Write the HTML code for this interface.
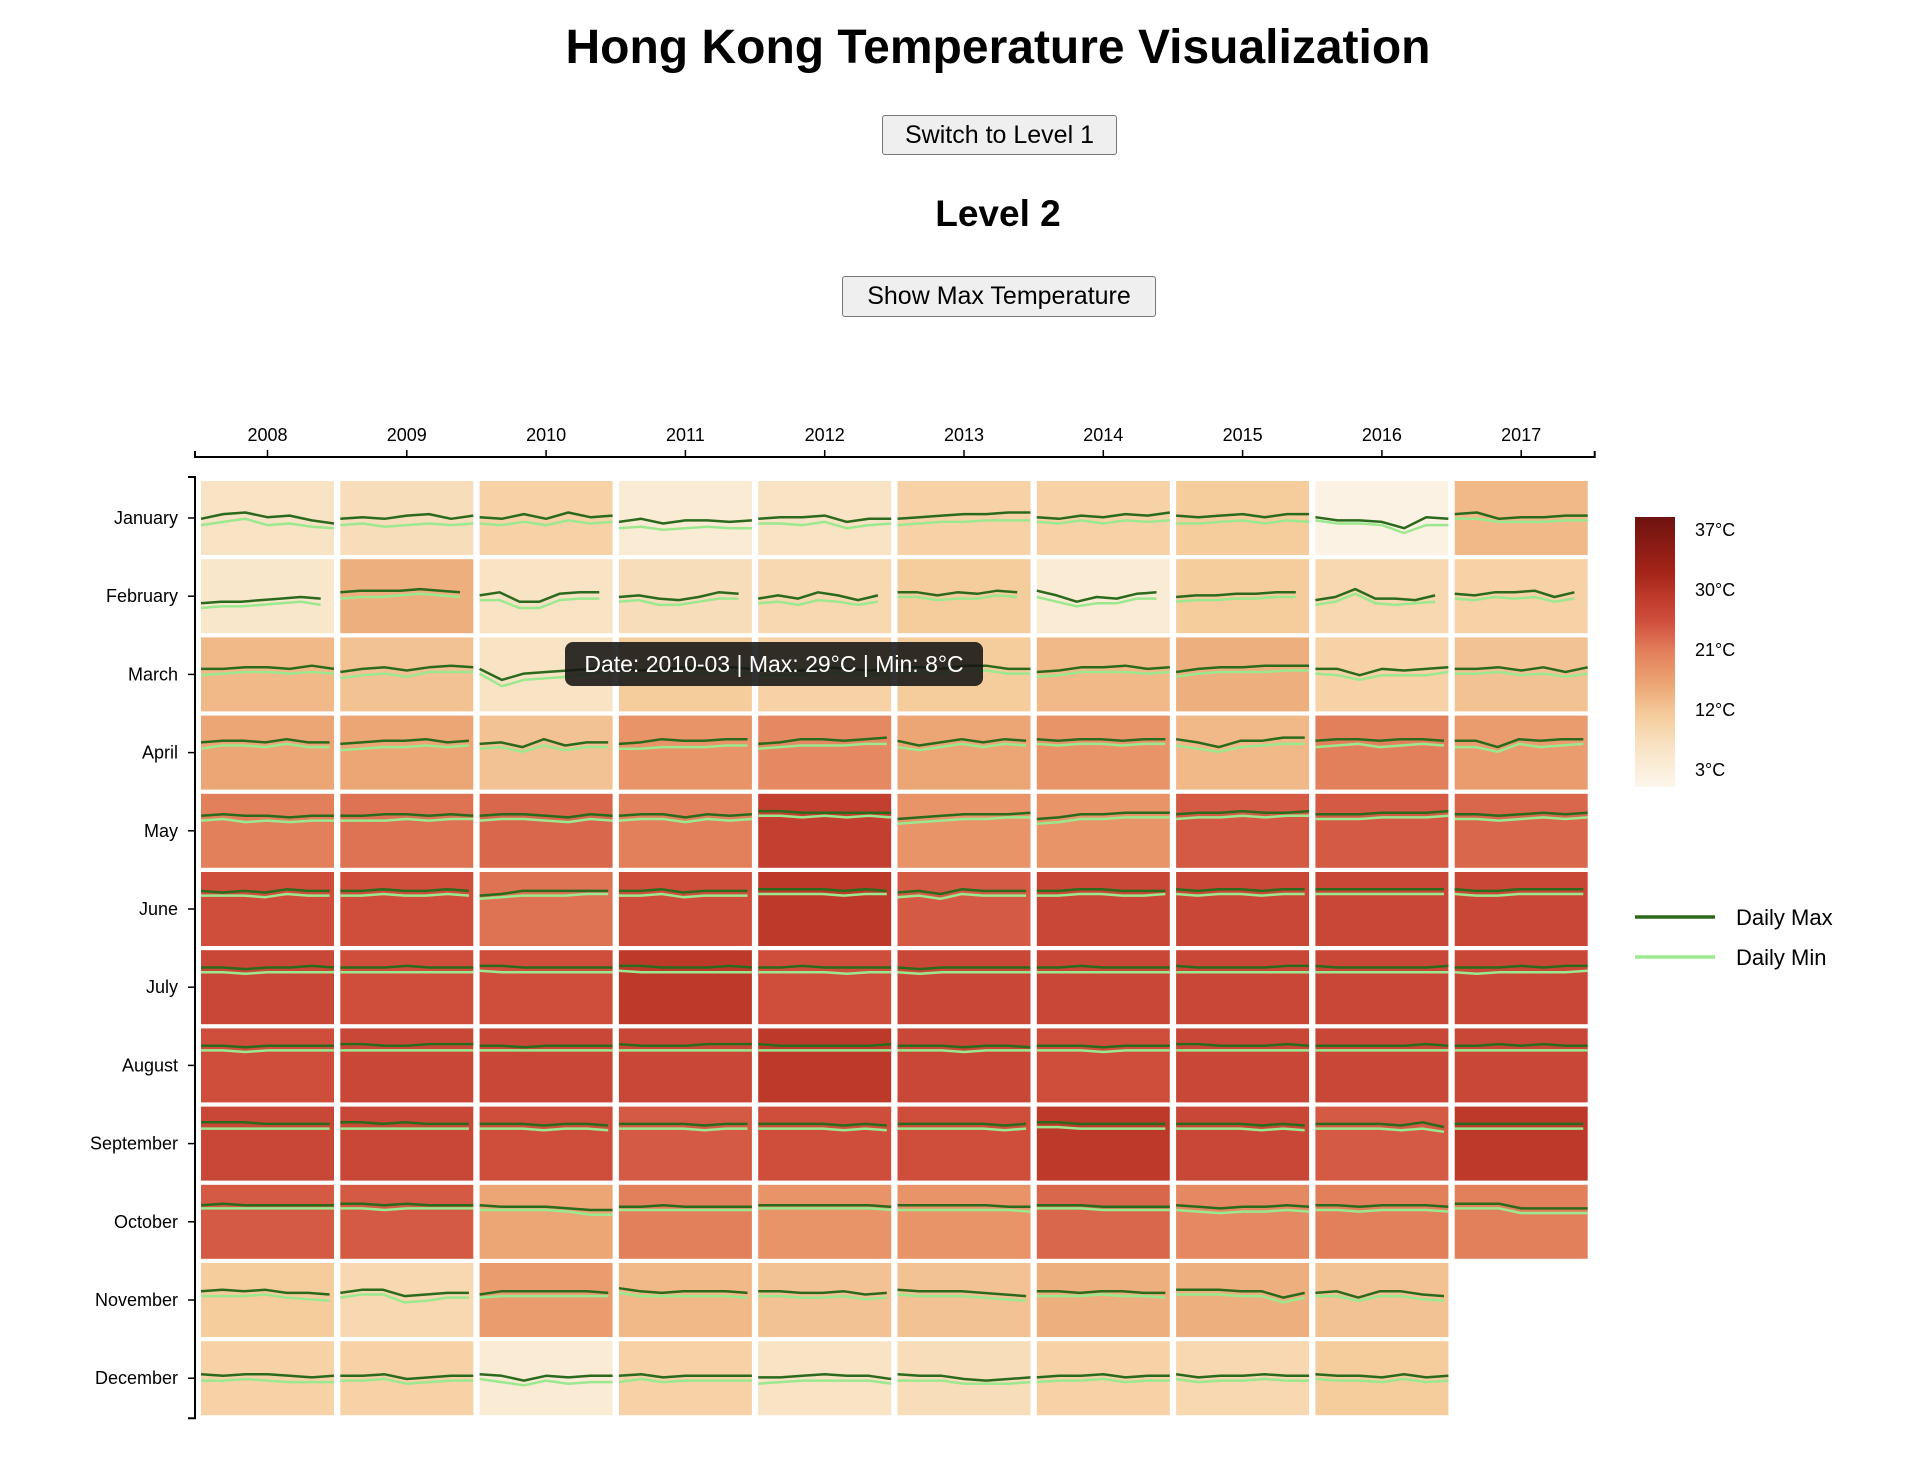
<!DOCTYPE html>
<html><head><meta charset="utf-8">
<style>
body{margin:0;background:#fff;font-family:"Liberation Sans",Arial,sans-serif;}
#wrap{position:relative;width:1905px;height:1474px;overflow:hidden;}
h1{position:absolute;left:0;width:1996px;top:20px;margin:0;text-align:center;font-size:48px;font-weight:bold;}
h2{position:absolute;left:0;width:1996px;top:193px;margin:0;text-align:center;font-size:37px;font-weight:bold;}
.btn{position:absolute;background:#efefef;border:1.5px solid #767676;border-radius:3px;font-size:25px;font-family:"Liberation Sans",Arial,sans-serif;color:#000;display:flex;align-items:center;justify-content:center;box-sizing:border-box;white-space:nowrap;}
#tip{position:absolute;left:565px;top:642px;width:418px;height:44px;background:rgba(20,20,20,0.88);color:#fff;border-radius:8px;font-size:23px;display:flex;align-items:center;justify-content:center;white-space:nowrap;}
</style></head>
<body><div id="wrap">
<h1>Hong Kong Temperature Visualization</h1>
<div class="btn" style="left:882px;top:115px;width:235px;height:40px;">Switch to Level 1</div>
<h2>Level 2</h2>
<div class="btn" style="left:842px;top:276px;width:314px;height:41px;">Show Max Temperature</div>
<svg id="chart" width="1905" height="1474" style="position:absolute;left:0;top:0"></svg>
<div id="tip">Date: 2010-03 | Max: 29°C | Min: 8°C</div>
</div>
<script>
const years=[2008,2009,2010,2011,2012,2013,2014,2015,2016,2017];
const months=["January","February","March","April","May","June","July","August","September","October","November","December"];
// monthly colour value (°C) rows=months, cols=years
const cellValues=[
[8,9,11,6,8,11,11,12,4,14],
[7,15,8,9,10,12,6,12,10,11],
[14,13,8,12,11,12,14,15,11,13],
[16,16,13,18,19,16,18,14,20,17],
[20,21,22,20,26,18,18,23,23,22],
[24,24,21,24,27,23,25,25,25,25],
[25,24,24,27,24,25,25,25,25,25],
[24,25,25,25,27,25,24,25,25,25],
[25,25,24,23,24,24,27,25,23,27],
[23,23,16,20,18,18,22,19,20,20],
[12,10,17,14,13,13,15,15,13,null],
[11,11,6,11,8,9,11,10,12,null]];
// daily max samples (°C) per cell: rows=months, cols=years
const maxSeries=[
["18 21 22 19 20 17 15","18 19 18 20 21 18 20","19 18 21 18 22 19 20","16 18 15 17 17 16 17","18 19 19 20 16 18 18","18 19 20 21 21 22 22","19 18 20 19 21 20 22","20 19 20 21 19 21 21","19 17 17 16 12 19 18","21 22 18 19 19 20 20"],
["14 15 15 16 17 18 17","21 22 22 22 23 22 21","19 21 15 15 20 21 21","18 19 17 16 18 21 20","17 19 17 21 19 16 19","21 21 19 21 20 22 21","22 19 15 18 17 20 21","18 19 19 20 20 21 21","16 18 23 17 17 16 19","20 19 21 21 22 18 21"],
["22 22 23 23 22 24 22","20 22 23 21 23 24 23","22 15 19 20 21 22 23","22 21 22 23 22 23 22","21 21 21 23 22 21 22","23 23 22 24 24 22 22","20 21 23 23 24 22 23","20 22 23 23 24 24 24","22 22 18 22 21 22 23","22 22 23 21 23 20 23"],
["25 26 26 25 27 25 25","24 25 26 26 27 25 26","24 25 22 27 23 25 25","24 25 27 26 26 27 27","24 25 27 27 26 27 28","26 23 25 27 25 27 26","27 26 27 27 26 27 27","27 25 22 26 26 28 28","26 27 27 26 27 27 26","26 26 22 27 26 27 27"],
["28 29 28 28 27 28 28","28 28 29 29 28 29 28","28 29 29 28 27 29 28","28 29 29 27 29 28 29","31 31 30 30 30 30 30","26 27 28 29 29 29 30","26 27 29 29 30 30 30","29 30 30 31 30 30 31","29 29 29 30 30 30 31","29 29 28 29 30 29 30"],
["30 29 30 29 31 30 30","30 30 31 30 30 31 30","27 28 30 30 30 30 30","30 30 31 29 30 30 30","31 31 31 31 30 31 30","29 30 28 31 30 30 30","30 30 31 31 30 30 30","31 30 31 31 30 31 31","31 31 31 31 31 31 31","31 30 30 31 31 31 31"],
["31 31 30 31 31 32 31","31 31 31 32 31 31 31","32 32 31 31 31 31 31","32 32 31 31 31 32 31","31 31 32 31 31 31 31","31 30 31 31 31 31 31","31 31 32 31 31 31 31","32 31 31 31 31 32 32","32 31 31 31 31 31 32","31 31 31 32 31 32 32"],
["31 31 30 31 31 31 31","32 32 31 31 32 32 32","31 31 30 31 31 31 31","32 31 31 31 32 32 32","32 31 31 31 31 31 32","31 31 31 30 31 31 30","31 31 31 30 31 31 31","32 32 31 31 31 32 31","31 31 31 31 31 32 31","31 31 32 31 32 31 31"],
["32 32 32 31 31 31 31","32 32 31 32 31 31 31","31 31 31 30 31 31 30","31 31 31 31 30 31 31","31 31 31 31 30 31 30","31 31 31 31 31 30 31","32 32 31 31 31 31 31","31 31 31 31 30 31 30","31 31 31 31 30 32 29","31 31 31 31 31 31 31"],
["29 30 29 29 29 29 29","30 30 29 30 29 29 29","29 28 28 28 27 26 26","28 28 29 28 28 28 28","29 29 29 29 29 29 28","29 29 29 29 29 28 28","29 29 29 28 28 28 28","29 28 27 28 28 29 28","29 29 28 29 29 29 28","30 30 30 27 27 27 27"],
["24 25 24 25 23 23 22","23 25 25 21 22 23 23","22 24 24 24 24 24 23","26 24 23 24 24 24 23","24 24 23 23 24 22 23","25 24 24 24 23 22 21","24 24 23 24 24 23 23","25 25 25 24 24 20 23","23 24 20 24 24 22 21",""],
["21 20 21 21 20 19 20","20 20 21 18 19 20 20","21 20 17 20 19 20 20","20 21 19 20 20 20 20","19 19 20 21 20 20 18","21 20 20 18 17 18 19","19 20 20 21 19 20 20","21 19 20 20 21 20 20","21 20 20 19 21 19 20",""]];
// daily min samples (°C) per cell
const minSeries=[
["14 16 18 14 15 13 12","14 15 13 14 15 14 15","15 14 16 14 17 15 16","12 13 11 12 13 12 12","15 15 14 16 12 14 15","14 15 16 16 17 17 17","16 15 17 15 17 16 17","15 15 16 17 15 17 16","17 15 15 14 9 14 14","18 18 16 16 16 17 17"],
["11 12 12 13 14 15 13","17 18 18 19 20 19 18","16 16 11 11 16 17 17","15 16 13 13 15 17 17","14 15 13 16 15 13 15","18 18 16 17 17 19 18","18 15 12 14 14 17 17","15 16 16 17 17 18 18","13 15 20 14 13 14 15","17 16 18 17 18 15 17"],
["18 19 20 20 19 20 19","16 18 19 17 20 20 20","19 11 15 16 17 19 20","19 18 19 20 19 20 19","18 18 18 20 19 18 19","19 20 19 21 21 19 19","17 18 20 20 20 19 20","17 19 20 20 20 21 21","19 18 15 18 18 18 20","19 19 20 18 19 17 19"],
["21 23 23 22 24 22 22","20 21 22 22 23 22 23","21 22 19 23 20 22 22","21 21 22 22 22 23 23","21 22 23 23 23 24 24","22 20 22 24 22 24 23","24 23 24 24 23 24 24","23 21 19 22 23 24 24","22 23 24 22 23 24 23","22 22 19 24 22 23 24"],
["25 26 24 25 24 25 25","25 25 25 26 25 26 26","25 26 26 25 24 26 25","25 26 26 24 26 25 26","28 28 27 28 27 28 27","23 24 25 26 26 27 27","23 24 26 26 27 27 27","26 27 27 28 27 28 28","26 26 26 27 27 27 28","26 26 25 26 27 26 27"],
["27 27 27 26 28 27 27","27 27 28 27 27 28 27","25 26 27 27 27 28 28","27 27 28 26 27 27 27","28 28 28 28 27 28 28","26 27 25 28 27 27 27","27 27 28 28 27 27 28","28 27 28 28 27 28 28","28 28 28 28 28 28 28","28 27 27 28 28 28 28"],
["28 28 27 28 28 28 28","28 28 28 28 28 28 28","29 28 28 28 28 28 28","29 28 28 28 28 28 28","28 28 28 28 27 28 28","28 27 28 28 28 28 28","28 28 28 28 28 28 28","28 28 28 28 28 28 28","28 28 28 28 28 28 28","28 27 28 28 28 28 29"],
["28 28 27 28 28 28 28","28 28 28 28 28 28 28","28 28 28 28 28 28 28","28 28 28 28 28 28 28","28 28 28 28 28 28 28","28 28 28 27 28 28 28","28 28 28 27 28 28 28","28 28 28 28 28 28 28","28 28 28 28 28 28 28","28 28 28 28 28 28 28"],
["28 28 28 28 28 28 28","28 28 28 28 28 28 28","28 28 28 27 28 28 27","28 28 28 28 27 28 28","28 28 28 28 27 28 27","28 28 28 28 28 27 28","29 29 28 28 28 28 28","28 28 28 28 27 28 27","28 28 28 28 27 28 26","28 28 28 28 28 28 28"],
["27 27 27 27 27 27 27","27 27 26 27 27 27 27","26 26 26 26 25 23 23","26 26 26 26 26 26 26","27 27 27 27 27 27 26","26 26 26 26 26 26 25","27 27 27 26 26 26 26","26 25 24 25 25 26 25","26 26 25 26 26 26 25","27 27 27 24 24 24 24"],
["21 21 21 22 20 19 18","20 22 22 17 18 20 20","20 21 21 21 21 21 21","23 21 21 21 21 21 20","21 21 20 20 21 19 20","22 21 21 21 20 19 18","21 21 21 22 21 21 20","22 22 22 21 21 17 20","21 21 18 21 21 19 18",""],
["17 17 18 17 16 16 16","17 17 18 15 16 17 17","18 16 14 17 15 16 16","16 18 16 17 17 17 17","15 16 17 17 17 17 15","17 17 17 15 15 15 16","16 17 17 18 16 17 17","18 16 17 17 18 17 17","18 17 17 16 18 16 17",""]];
const daysInMonth=[31,28,31,30,31,30,31,31,30,31,30,31];
const legendTicks=[37,30,21,12,3];
const colorStops=[[3,"#fdf6ec"],[8,"#f8e3c4"],[12,"#f5cc9c"],[16,"#eca574"],[20,"#e3805c"],[24,"#cf4d3b"],[27,"#bd3a2b"],[30,"#a52419"],[37,"#6e120f"]];

const svg=document.getElementById('chart');
const NS="http://www.w3.org/2000/svg";
function mk(tag,attrs,parent){const e=document.createElementNS(NS,tag);for(const k in attrs)e.setAttribute(k,attrs[k]);(parent||svg).appendChild(e);return e;}
const X0=201,XS=139.3,CW=133,Y0=481,YS=78.2,CH=74;
function xBand(i){return X0+i*XS;}
function yBand(j){return Y0+j*YS;}
function hex(c){return [1,3,5].map(i=>parseInt(c.substr(i,2),16));}
function color(v){
  if(v<=colorStops[0][0])return colorStops[0][1];
  for(let i=1;i<colorStops.length;i++){if(v<=colorStops[i][0]){const a=colorStops[i-1],b=colorStops[i];const t=(v-a[0])/(b[0]-a[0]);const ca=hex(a[1]),cb=hex(b[1]);return "rgb("+ca.map((c,k)=>Math.round(c+(cb[k]-c)*t)).join(",")+")";}}
  return colorStops[colorStops.length-1][1];
}
function yTemp(t){return (42-t)/47*CH;}

// cells
for(let j=0;j<12;j++){for(let i=0;i<10;i++){
  const v=cellValues[j][i]; if(v===null)continue;
  const g=mk('g',{transform:`translate(${xBand(i)},${yBand(j)})`});
  
  
  const r=mk('rect',{x:0,y:0,width:CW,height:CH,fill:color(v)},g);
  
  
  const frac=(daysInMonth[j]-1)/30;
  [[minSeries,'#9be88f','min-line'],[maxSeries,'#2b6a1c','max-line']].forEach(([src,col,nm])=>{
    const s=src[j][i]; if(!s)return;
    const vals=s.split(' ').map(Number);
    const pts=vals.map((t,k)=>((k/(vals.length-1))*frac*CW).toFixed(1)+','+yTemp(t).toFixed(1)).join(' ');
    const p=mk('polyline',{points:pts,fill:'none',stroke:col,'stroke-width':2.5,'stroke-linejoin':'round'},g);
    
    
  });
}}

// top axis
const ax=mk('g',{});


const axRight=xBand(9)+CW+7;
mk('path',{d:`M195,451V457H${axRight}V451`,fill:'none',stroke:'#000','stroke-width':2},ax);
years.forEach((y,i)=>{const cx=xBand(i)+CW/2;
  mk('line',{x1:cx,x2:cx,y1:457,y2:450,stroke:'#000','stroke-width':1.5},ax);
  const t=mk('text',{x:cx,y:441,'text-anchor':'middle','font-size':18,fill:'#000'},ax);t.textContent=y;
  
  });
// left axis
const ay=mk('g',{});


const ayBottom=yBand(11)+CH+3;
mk('path',{d:`M188,477H195V${ayBottom}H188`,fill:'none',stroke:'#000','stroke-width':2},ay);
months.forEach((m,j)=>{const cy=yBand(j)+CH/2;
  mk('line',{x1:195,x2:188,y1:cy,y2:cy,stroke:'#000','stroke-width':1.5},ay);
  const t=mk('text',{x:178,y:cy+6,'text-anchor':'end','font-size':18,fill:'#000'},ay);t.textContent=m;
  
  });

// color legend
const defs=mk('defs',{});
const lg=mk('linearGradient',{id:'cg',x1:0,y1:1,x2:0,y2:0},defs);
colorStops.forEach(s=>mk('stop',{offset:((s[0]-3)/34*100)+'%','stop-color':s[1]},lg));
const leg=mk('g',{});


mk('rect',{x:1635,y:517,width:40,height:270,fill:'url(#cg)'},leg);
legendTicks.forEach((v,k)=>{const t=mk('text',{x:1695,y:536+k*60,'font-size':18,fill:'#000'},leg);t.textContent=v+'°C';
  
  });
// line legend
const ll=mk('g',{});


[['Daily Max','#2b6a1c',917],['Daily Min','#9be88f',957]].forEach(([n,c,y])=>{
  mk('line',{x1:1635,x2:1715,y1:y,y2:y,stroke:c,'stroke-width':3.5},ll);
  const t=mk('text',{x:1736,y:y+8,'font-size':22,fill:'#000'},ll);t.textContent=n;
  
  });
</script>
</body></html>
